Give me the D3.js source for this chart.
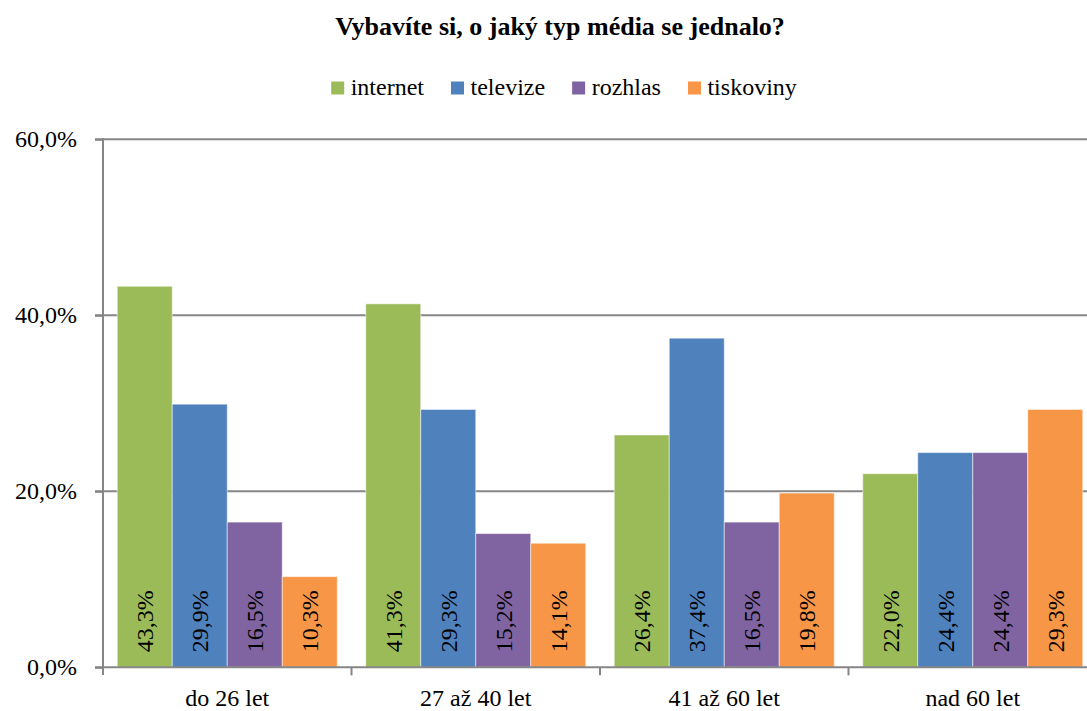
<!DOCTYPE html>
<html>
<head>
<meta charset="utf-8">
<script src="https://cdn.jsdelivr.net/npm/d3@7"></script>
<style>
  body { margin: 0; background: #fff; overflow: hidden; }
  svg { display: block; }
</style>
</head>
<body>
<div id="container"></div>
<script>
// data
let categories = ["do 26 let", "27 až 40 let", "41 až 60 let", "nad 60 let"];
let seriesNames = ["internet", "televize", "rozhlas", "tiskoviny"];
let internet = [43.3, 41.3, 26.4, 22.0];
let televize = [29.9, 29.3, 37.4, 24.4];
let rozhlas = [16.5, 15.2, 16.5, 24.4];
let tiskoviny = [10.3, 14.1, 19.8, 29.3];
let yTicks = [0, 20, 40, 60];
let colors = ["#9BBB59", "#4F81BD", "#8064A2", "#F79646"];

let seriesValues = [internet, televize, rozhlas, tiskoviny];

let w = 1087;
let h = 711;
let axisColor = "#868686";
let font = "Times New Roman";

let viz = d3.select("#container")
  .append("svg")
    .attr("width", w)
    .attr("height", h)
    .attr("font-family", font)
;

let x = d3.scaleBand()
  .domain(categories)
  .range([103, 1097])
  .paddingInner(0)
  .paddingOuter(0)
;

let xSeries = d3.scaleBand()
  .domain(seriesNames)
  .range([0, x.bandwidth()])
  .paddingInner(0)
  .paddingOuter(0.259)
;

let y = d3.scaleLinear()
  .domain([0, 60])
  .range([667.3, 139.3])
;

function fmt(v){
  return v.toFixed(1).replace(".", ",") + "%";
}

// gridlines
viz.append("g")
  .selectAll("line")
  .data(yTicks.filter(d => d > 0))
  .enter()
  .append("line")
    .attr("x1", 95)
    .attr("x2", w)
    .attr("y1", d => y(d))
    .attr("y2", d => y(d))
    .attr("stroke", axisColor)
    .attr("stroke-width", 2)
;

// y axis
let yAxis = d3.axisLeft(y)
  .tickValues(yTicks)
  .tickSize(8)
  .tickPadding(18)
  .tickFormat(fmt)
;
let yg = viz.append("g")
  .attr("transform", "translate(103,0)")
  .call(yAxis)
  .attr("font-family", font)
  .attr("font-size", 24)
;
yg.select(".domain").remove();
yg.selectAll(".tick line").attr("stroke", axisColor).attr("stroke-width", 2);
yg.selectAll(".tick text").attr("fill", "#000");
viz.append("line")
  .attr("x1", 103).attr("x2", 103)
  .attr("y1", y(60) - 1).attr("y2", 675)
  .attr("stroke", axisColor)
  .attr("stroke-width", 2)
;

// bars
let groups = viz.append("g")
  .selectAll("g")
  .data(categories)
  .enter()
  .append("g")
    .attr("transform", d => "translate(" + x(d) + ",0)")
;

let bars = groups.selectAll("g")
  .data((c, ci) => seriesNames.map((s, si) => ({ series: s, si: si, value: seriesValues[si][ci] })))
  .enter()
  .append("g")
;

bars.append("rect")
  .attr("x", d => xSeries(d.series))
  .attr("width", xSeries.bandwidth())
  .attr("y", d => y(d.value))
  .attr("height", d => y(0) - y(d.value))
  .attr("fill", d => colors[d.si])
  .attr("stroke", "rgba(255,255,255,0.5)")
  .attr("stroke-width", 1)
;

bars.append("text")
  .attr("transform", d => "translate(" + (xSeries(d.series) + xSeries.bandwidth() / 2 + 8.5) + "," + (y(0) - 15) + ") rotate(-90)")
  .attr("text-anchor", "start")
  .attr("font-size", 24)
  .attr("fill", "#000")
  .text(d => fmt(d.value))
;

// x axis
let xAxis = d3.axisBottom(x)
  .tickSize(0)
  .tickPadding(22)
;
let xg = viz.append("g")
  .attr("transform", "translate(0," + y(0) + ")")
  .call(xAxis)
  .attr("font-family", font)
  .attr("font-size", 24)
;
xg.select(".domain").remove();
xg.selectAll(".tick text").attr("fill", "#000");
viz.append("line")
  .attr("x1", 95).attr("x2", w)
  .attr("y1", y(0)).attr("y2", y(0))
  .attr("stroke", axisColor)
  .attr("stroke-width", 2)
;
// category boundary ticks
viz.append("g")
  .selectAll("line")
  .data(categories.slice(1))
  .enter()
  .append("line")
    .attr("x1", d => x(d))
    .attr("x2", d => x(d))
    .attr("y1", y(0))
    .attr("y2", y(0) + 8)
    .attr("stroke", axisColor)
    .attr("stroke-width", 2)
;

// title
viz.append("text")
  .attr("x", 560)
  .attr("y", 34.5)
  .attr("text-anchor", "middle")
  .attr("font-size", 26)
  .attr("font-weight", "bold")
  .text("Vybavíte si, o jaký typ média se jednalo?")
;

// legend
let legend = viz.append("g");
let lx = 0;
seriesNames.forEach(function(s, i){
  let item = legend.append("g").attr("transform", "translate(" + lx + ",0)");
  item.append("rect")
    .attr("x", 0).attr("y", 81.5)
    .attr("width", 13).attr("height", 13)
    .attr("fill", colors[i]);
  let t = item.append("text")
    .attr("x", 19.5).attr("y", 95)
    .attr("font-size", 24)
    .text(s);
  lx += 19.5 + t.node().getComputedTextLength() + 27;
});
let legendWidth = lx - 27;
legend.attr("transform", "translate(" + (564 - legendWidth / 2) + ",0)");
</script>
</body>
</html>
